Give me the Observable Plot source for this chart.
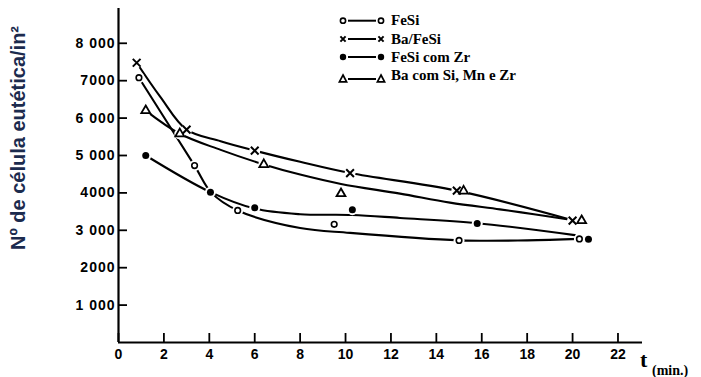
<!DOCTYPE html>
<html>
<head>
<meta charset="utf-8">
<script src="https://cdn.jsdelivr.net/npm/d3@7"></script>
<script src="https://cdn.jsdelivr.net/npm/@observablehq/plot@0.6"></script>
<style>
  html, body { margin: 0; padding: 0; background: #fff; }
  #wrap { position: relative; width: 701px; height: 377px; overflow: hidden; }
  #wrap svg.overlay { position: absolute; left: 0; top: 0; pointer-events: none; }
  g[aria-label="y-axis tick label"] text { letter-spacing: 1px; }
</style>
</head>
<body>
<div id="wrap"></div>
<script>
// ---- data ----
const series = ["FeSi", "Ba/FeSi", "FeSi com Zr", "Ba com Si, Mn e Zr"];

// measured points (markers)
const feSiT   = [0.9, 3.35, 5.25, 9.5, 15.0, 20.3];
const feSiN   = [7080, 4730, 3530, 3160, 2730, 2770];
const baFeSiT = [0.8, 3.0, 6.0, 10.2, 14.9, 20.0];
const baFeSiN = [7480, 5690, 5130, 4530, 4060, 3260];
const zrT     = [1.2, 4.05, 6.0, 10.3, 15.8, 20.7];
const zrN     = [5000, 4020, 3600, 3550, 3180, 2760];
const baSiT   = [1.2, 2.7, 6.4, 9.8, 15.2, 20.4];
const baSiN   = [6200, 5580, 4760, 3980, 4050, 3260];

// hand-drawn trend curves
const feSiCurveT   = [0.9, 3.35, 4.1, 5.25, 8.0, 10.2, 15.0, 18.0, 20.3];
const feSiCurveN   = [7080, 4730, 4000, 3530, 3060, 2930, 2730, 2730, 2770];
const baFeSiCurveT = [0.8, 1.85, 3.0, 4.5, 6.0, 8.0, 10.2, 14.9, 20.0];
const baFeSiCurveN = [7480, 6560, 5690, 5380, 5130, 4830, 4530, 4060, 3270];
const zrCurveT     = [1.2, 4.05, 6.0, 8.0, 10.3, 12.4, 15.8, 20.1];
const zrCurveN     = [5000, 4020, 3580, 3430, 3410, 3330, 3190, 2870];
const baSiCurveT   = [1.2, 2.7, 4.5, 6.4, 8.0, 9.8, 12.4, 14.6, 16.8, 18.3, 19.9];
const baSiCurveN   = [6200, 5580, 5150, 4760, 4490, 4240, 3980, 3740, 3560, 3430, 3280];

// axis ticks
const xTicks  = [0, 2, 4, 6, 8, 10, 12, 14, 16, 18, 20, 22];
const yTicks  = [1000, 2000, 3000, 4000, 5000, 6000, 7000, 8000];
const yLabels = ["1 000", "2000", "3 000", "4000", "5 000", "6 000", "7000", "8 000"];
const yTitle  = "Nº de célula eutética/in²";
const xTitle  = "t";
const xUnit   = "(min.)";

// ---- build tables ----
const toRows = (name, ts, ns) => ts.map((t, i) => ({series: name, t, n: ns[i]}));
const pts = [
  toRows(series[0], feSiT, feSiN),
  toRows(series[1], baFeSiT, baFeSiN),
  toRows(series[2], zrT, zrN),
  toRows(series[3], baSiT, baSiN)
];
const curves = [
  ...toRows(series[0], feSiCurveT, feSiCurveN),
  ...toRows(series[1], baFeSiCurveT, baFeSiCurveN),
  ...toRows(series[2], zrCurveT, zrCurveN),
  ...toRows(series[3], baSiCurveT, baSiCurveN)
];
const allPts = pts.flat();

const chart = Plot.plot({
  width: 701,
  height: 377,
  marginLeft: 118,
  marginRight: 59,
  marginTop: 8,
  marginBottom: 35,
  x: {domain: [0, 23.08]},
  y: {domain: [0, 8930]},
  style: {background: "white", color: "black", overflow: "visible"},
  marks: [
    // inward ticks
    Plot.axisY({ticks: yTicks, tickSize: 9, dx: 9, tickFormat: () => "", strokeWidth: 1.8, label: null}),
    Plot.axisY({ticks: yTicks, tickSize: 0, tickPadding: 3,
      tickFormat: d => yLabels[yTicks.indexOf(d)],
      fontSize: 14, fontWeight: "bold", fontFamily: "Liberation Sans, Arial, sans-serif", label: null}),
    Plot.axisX({ticks: xTicks, tickSize: 9, dy: -9, tickFormat: () => "", strokeWidth: 1.8, label: null}),
    Plot.axisX({ticks: xTicks, tickSize: 0, tickPadding: 7,
      fontSize: 14, fontWeight: "bold", fontFamily: "Liberation Sans, Arial, sans-serif", label: null}),
    Plot.ruleX([0], {strokeWidth: 2.2}),
    Plot.ruleY([0], {strokeWidth: 2.2}),
    // curves
    Plot.line(curves, {x: "t", y: "n", z: "series", curve: "catmull-rom", stroke: "black", strokeWidth: 2.1}),
    // white halos to break the lines near markers
    Plot.dot(allPts, {x: "t", y: "n", r: 5.5, fill: "white", stroke: null}),
    // markers
    Plot.dot(pts[0], {x: "t", y: "n", r: 2.8, fill: "white", stroke: "black", strokeWidth: 1.6}),
    Plot.dot(pts[1], {x: "t", y: "n", symbol: "times", r: 3.6, stroke: "black", strokeWidth: 2}),
    Plot.dot(pts[2], {x: "t", y: "n", r: 3.5, fill: "black", stroke: null}),
    Plot.dot(pts[3], {x: "t", y: "n", symbol: "triangle", r: 3.3, fill: "white", stroke: "black", strokeWidth: 1.8})
  ]
});

const wrap = document.getElementById("wrap");
wrap.appendChild(chart);

// ---- overlay: legend and axis titles ----
const svg = d3.select(wrap).append("svg")
  .attr("class", "overlay")
  .attr("width", 701).attr("height", 377);

// y title
svg.append("text")
  .attr("transform", "translate(18,138) rotate(-90)")
  .attr("text-anchor", "middle")
  .attr("dominant-baseline", "central")
  .attr("font-family", "Liberation Sans, Arial, sans-serif")
  .attr("font-weight", "bold")
  .attr("font-size", 20)
  .attr("fill", "#1c2b4e")
  .text(yTitle);

// x title
svg.append("text")
  .attr("x", 640).attr("y", 367)
  .attr("font-family", "Liberation Serif, Times New Roman, serif")
  .attr("font-weight", "bold").attr("font-size", 22)
  .text(xTitle);
svg.append("text")
  .attr("x", 652).attr("y", 375)
  .attr("font-family", "Liberation Serif, Times New Roman, serif")
  .attr("font-weight", "bold").attr("font-size", 14)
  .text(xUnit);

// legend
const rowY = [20.7, 39, 57, 79];
const textY = [24.5, 43.5, 62, 80];
const lx1 = 343, lx2 = 381;
function marker(g, kind, cx, cy) {
  if (kind === 0) {
    g.append("circle").attr("cx", cx).attr("cy", cy).attr("r", 2.6)
      .attr("fill", "white").attr("stroke", "black").attr("stroke-width", 1.6);
  } else if (kind === 1) {
    const s = 2.6;
    g.append("path").attr("d", `M${cx - s},${cy - s}L${cx + s},${cy + s}M${cx - s},${cy + s}L${cx + s},${cy - s}`)
      .attr("stroke", "black").attr("stroke-width", 2);
  } else if (kind === 2) {
    g.append("circle").attr("cx", cx).attr("cy", cy).attr("r", 3.2).attr("fill", "black");
  } else {
    const s = 4.0;
    g.append("path").attr("d", `M${cx},${cy - s}L${cx + s * 0.9},${cy + s * 0.7}L${cx - s * 0.9},${cy + s * 0.7}Z`)
      .attr("fill", "white").attr("stroke", "black").attr("stroke-width", 1.7);
  }
}
series.forEach((name, i) => {
  const g = svg.append("g");
  g.append("line").attr("x1", lx1 + 5).attr("x2", lx2 - 5)
    .attr("y1", rowY[i]).attr("y2", rowY[i])
    .attr("stroke", "black").attr("stroke-width", 2);
  marker(g, i, lx1, rowY[i]);
  marker(g, i, lx2, rowY[i]);
  g.append("text").attr("x", 391).attr("y", textY[i])
    .attr("font-family", "Liberation Serif, Times New Roman, serif")
    .attr("font-weight", "bold").attr("font-size", 15)
    .text(name);
});
</script>
</body>
</html>
